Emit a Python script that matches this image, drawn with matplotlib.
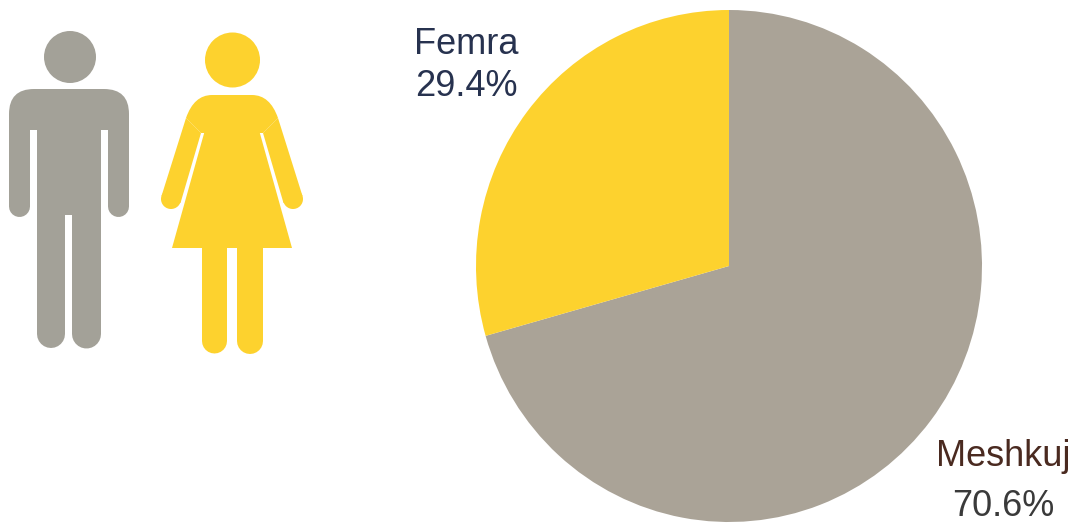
import matplotlib.pyplot as plt
from matplotlib.patches import Circle, Polygon, PathPatch
from matplotlib.path import Path

labels = ['Meshkuj', 'Femra']
values = [70.6, 29.4]
value_labels = ['70.6%', '29.4%']
grey = '#aaa397'
icon_grey = '#a3a198'
yellow = '#fdd22e'

plt.rcParams['font.family'] = ['Liberation Sans', 'DejaVu Sans']

fig = plt.figure(figsize=(10.73, 5.24), dpi=100)

# whole figure in pixels, for the icons and the labels
ax1 = fig.add_axes([0, 0, 1, 1])
ax1.set_xlim(0, 1073)
ax1.set_ylim(524, 0)
ax1.axis('off')

# pie, starts at 12 o'clock and goes clockwise
ax2 = fig.add_axes([476 / 1073, 1 - 522 / 524, 506 / 1073, 512 / 524])
ax2.pie(values, colors=[grey, yellow], startangle=90, counterclock=False,
	radius=1.0)
ax2.set_xlim(-1, 1)
ax2.set_ylim(-1, 1)
ax2.set_aspect('auto')

def limb(x0, y0, x1, y1, w, color):
	# thick line with round ends, width in pixels
	ax1.plot([x0, x1], [y0, y1], color=color, lw=w * 0.72, solid_capstyle='round',
		snap=False)

def poly(pts, color):
	ax1.add_patch(Polygon(pts, fc=color, ec='none', snap=False))

def shape(pts, color):
	# pts: plain points, or (control, end) pairs for a curve
	verts = [pts[0]]
	codes = [Path.MOVETO]
	for p in pts[1:]:
		if isinstance(p[0], tuple):
			verts += [p[0], p[1]]
			codes += [Path.CURVE3, Path.CURVE3]
		else:
			verts.append(p)
			codes.append(Path.LINETO)
	verts.append(pts[0])
	codes.append(Path.CLOSEPOLY)
	ax1.add_patch(PathPatch(Path(verts, codes), fc=color, ec='none', snap=False))

# man icon
ax1.add_patch(Circle((70, 57), 26, fc=icon_grey, ec='none'))
shape([(9, 130), (9, 114), ((9, 89), (34, 89)), (104, 89), ((129, 89), (129, 114)),
	(129, 130)], icon_grey)
limb(19.5, 125, 19.5, 206.5, 21, icon_grey)
limb(118.5, 125, 118.5, 206.5, 21, icon_grey)
poly([(37, 125), (101, 125), (101, 215), (37, 215)], icon_grey)
limb(51, 210, 51, 334, 28, icon_grey)
limb(86.5, 210, 86.5, 334, 29, icon_grey)

# woman icon
ax1.add_patch(Circle((232.5, 60), 27.5, fc=yellow, ec='none'))
shape([(186, 118), ((194, 95), (212, 95)), (252, 95), ((270, 95), (278, 118)),
	(263, 133), (201, 133)], yellow)
poly([(205, 130), (259, 130), (292, 248), (172, 248)], yellow)
poly([(186, 118), (201, 133), (180.5, 203), (161.5, 196)], yellow)
poly([(278, 118), (263, 133), (283.5, 203), (302.5, 196)], yellow)
ax1.add_patch(Circle((171, 199), 10, fc=yellow, ec='none'))
ax1.add_patch(Circle((293, 199), 10, fc=yellow, ec='none'))
limb(214.5, 240, 214.5, 341, 25, yellow)
limb(250, 240, 250, 341, 26, yellow)

# labels
ax1.text(466, 44, labels[1], fontsize=26, color='#27324f', ha='center', va='center')
ax1.text(466, 86, value_labels[1], fontsize=26, color='#27324f', ha='center', va='center')
ax1.text(1003, 457, labels[0], fontsize=26, color='#4a2a20', ha='center', va='center')
ax1.text(1003, 506, value_labels[0], fontsize=26, color='#3a3a3a', ha='center', va='center')

fig.savefig('out.png', dpi=100)
